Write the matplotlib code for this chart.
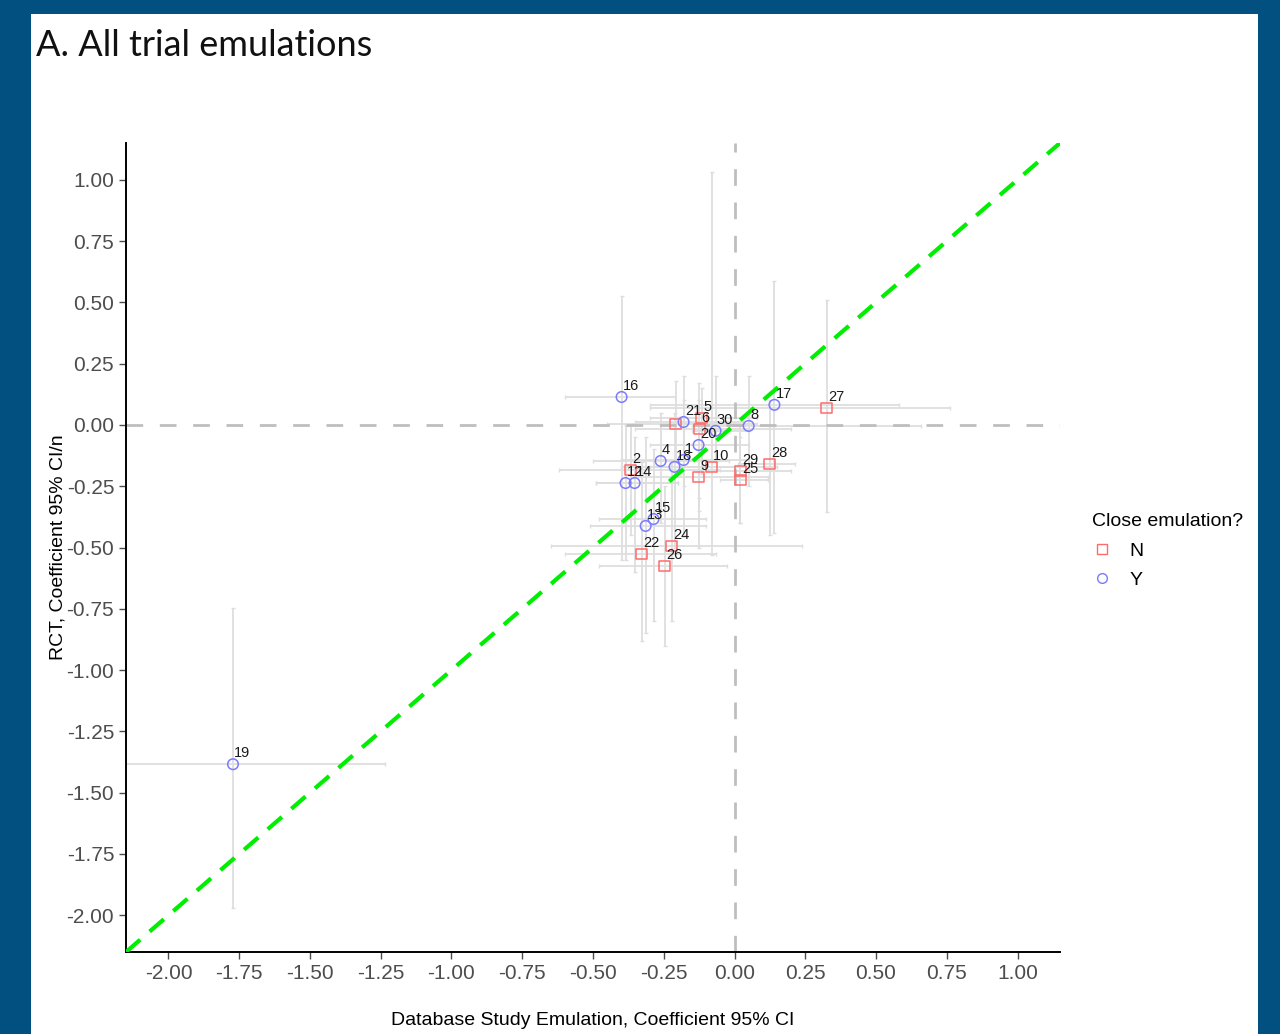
import matplotlib
matplotlib.use("Agg")
import matplotlib.pyplot as plt
from matplotlib.patches import Rectangle
from matplotlib.lines import Line2D

plt.rcParams['font.family'] = ['Liberation Sans', 'DejaVu Sans']

# trial emulation estimates: database (x) vs RCT (y), with 95% CIs
labels = ["1", "2", "", "4", "5", "6", "8", "9", "10", "12", "13", "14", "15",
          "16", "17", "18", "19", "20", "21", "22", "24", "25", "26", "27",
          "28", "29", "30"]
close = ["Y", "N", "N", "Y", "N", "N", "Y", "N", "N", "Y", "Y", "Y", "Y",
         "Y", "Y", "Y", "Y", "Y", "Y", "N", "N", "N", "N", "N",
         "N", "N", "Y"]
db_est = [-0.18, -0.367, -0.208, -0.261, -0.116, -0.124, 0.05, -0.127, -0.081,
          -0.385, -0.314, -0.353, -0.286, -0.399, 0.141, -0.212, -1.772, -0.127,
          -0.18, -0.328, -0.222, 0.021, -0.247, 0.325, 0.124, 0.021, -0.067]
db_lo = [-0.40, -0.62, -0.45, -0.50, -0.30, -0.35, -0.15, -0.36, -0.30,
         -0.49, -0.51, -0.49, -0.48, -0.60, -0.30, -0.40, -2.40, -0.30,
         -0.35, -0.60, -0.65, -0.05, -0.48, -0.30, 0.014, -0.10, -0.15]
db_hi = [0.05, -0.05, 0.08, -0.02, 0.08, 0.20, 0.66, 0.12, 0.15,
         -0.20, -0.10, -0.20, -0.10, -0.21, 0.58, 0.00, -1.235, 0.05,
         0.03, -0.064, 0.237, 0.12, -0.028, 0.762, 0.215, 0.20, 0.05]
rct_est = [-0.143, -0.184, 0.004, -0.147, 0.029, -0.016, -0.004, -0.212, -0.171,
           -0.237, -0.412, -0.237, -0.384, 0.114, 0.082, -0.171, -1.384, -0.082,
           0.012, -0.527, -0.494, -0.224, -0.576, 0.069, -0.159, -0.188, -0.024]
rct_lo = [-0.45, -0.45, -0.15, -0.40, -0.20, -0.30, -0.25, -0.50, -0.53,
          -0.55, -0.85, -0.60, -0.80, -0.55, -0.44, -0.50, -1.971, -0.35,
          -0.25, -0.88, -0.80, -0.40, -0.90, -0.355, -0.45, -0.40, -0.15]
rct_hi = [0.10, 0.00, 0.18, 0.05, 0.15, 0.17, 0.20, 0.05, 1.03,
          0.00, -0.05, -0.05, -0.10, 0.527, 0.588, 0.05, -0.747, 0.10,
          0.20, -0.15, -0.15, -0.05, -0.25, 0.51, 0.10, 0.00, 0.20]

ticks = [-2.00, -1.75, -1.50, -1.25, -1.00, -0.75, -0.50, -0.25,
         0.00, 0.25, 0.50, 0.75, 1.00]

RED = "#FF6B6B"
BLUE = "#7B7BFF"
styles = {"N": dict(marker="s", color=RED), "Y": dict(marker="o", color=BLUE)}

fig = plt.figure(figsize=(12.8, 10.34), dpi=100)
fig.patch.set_facecolor("#01507F")
fig.patches.append(Rectangle((31 / 1280, 0), (1258 - 31) / 1280, 1 - 14 / 1034,
                             transform=fig.transFigure, facecolor="white",
                             edgecolor="none", zorder=-10))

ax = fig.add_axes([126 / 1280, 1 - 952 / 1034, 934 / 1280, 809 / 1034])
ax.set_facecolor("none")

# confidence intervals
for i in range(len(labels)):
    ax.errorbar(db_est[i], rct_est[i],
                xerr=[[db_est[i] - db_lo[i]], [db_hi[i] - db_est[i]]],
                yerr=[[rct_est[i] - rct_lo[i]], [rct_hi[i] - rct_est[i]]],
                fmt="none", ecolor="#DEDEDE", elinewidth=1.3, capsize=1.5,
                zorder=1)

ax.axvline(0, color="#BEBEBE", lw=2, ls=(0, (6, 6)), zorder=2)
ax.axhline(0, color="#BEBEBE", lw=2, ls=(0, (6, 6)), zorder=2)
ax.plot([-2.15, 1.15], [-2.15, 1.15], color="#00EE00", lw=3,
        ls=(0, (4.5, 3)), zorder=3)

for grp in ["N", "Y"]:
    xs = [x for x, c in zip(db_est, close) if c == grp]
    ys = [y for y, c in zip(rct_est, close) if c == grp]
    st = styles[grp]
    ax.scatter(xs, ys, marker=st["marker"], facecolors="none",
               edgecolors=st["color"], s=58, linewidths=1.1, zorder=4)

for x, y, lab in zip(db_est, rct_est, labels):
    if lab:
        ax.annotate(lab, (x, y), xytext=(1, 3), textcoords="offset points",
                    ha="left", va="bottom", fontsize=10.5, color="#1A1A1A",
                    zorder=5)

ax.set_xlim(-2.15, 1.15)
ax.set_ylim(-2.15, 1.15)
ax.set_xticks(ticks)
ax.set_yticks(ticks)
ax.set_xticklabels([f"{t:.2f}" for t in ticks])
ax.set_yticklabels([f"{t:.2f}" for t in ticks])
ax.tick_params(colors="#4D4D4D", labelsize=15, length=5, width=1)
for side in ["top", "right"]:
    ax.spines[side].set_visible(False)
for side in ["left", "bottom"]:
    ax.spines[side].set_linewidth(1.4)

ax.set_xlabel("Database Study Emulation, Coefficient 95% CI", fontsize=14,
              labelpad=21)
ax.set_ylabel("RCT, Coefficient 95% CI/n", fontsize=14, labelpad=0)

handles = [Line2D([], [], ls="none", marker="s", markersize=7,
                  markerfacecolor="none", markeredgecolor=RED),
           Line2D([], [], ls="none", marker="o", markersize=7,
                  markerfacecolor="none", markeredgecolor=BLUE)]
leg = fig.legend(handles, ["N", "Y"], title="Close emulation?",
                 loc="upper left", bbox_to_anchor=(1075 / 1280, 1 - 496 / 1034),
                 frameon=False, fontsize=14, title_fontsize=14,
                 handlelength=1.0, handletextpad=0.9, labelspacing=0.6)
leg._legend_box.align = "left"

fig.text(36 / 1280, 1 - 45 / 1034, "A. All trial emulations", fontsize=26,
         family=["Lato", "DejaVu Sans"], va="center", ha="left", color="#111111")

fig.savefig("out.png", dpi=100, facecolor=fig.get_facecolor())
